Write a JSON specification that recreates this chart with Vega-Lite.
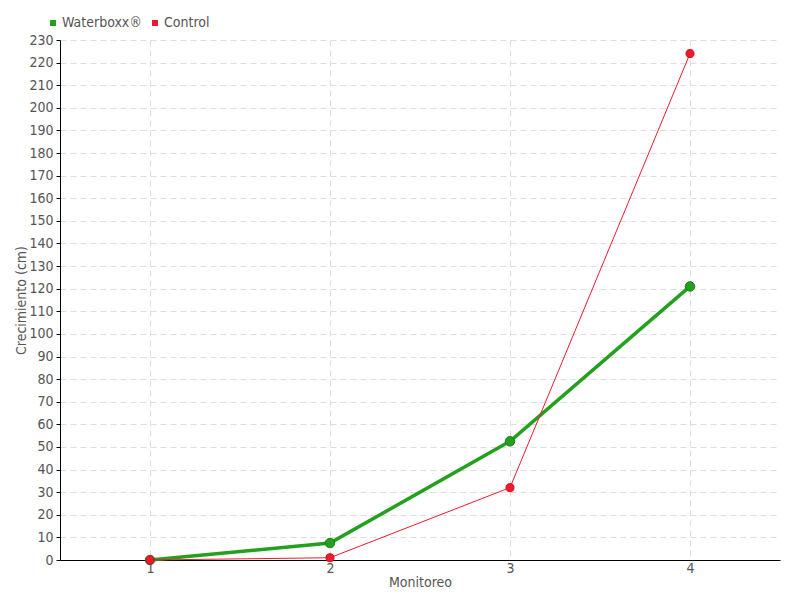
{
  "$schema": "https://vega.github.io/schema/vega-lite/v6.json",
  "width": 720,
  "height": 520,
  "autosize": {"type": "none"},
  "padding": {"left": 60, "top": 40, "right": 20, "bottom": 40},
  "background": "white",
  "config": {
    "view": {"stroke": null},
    "font": "DejaVu Sans Condensed, sans-serif",
    "axis": {
      "labelFont": "DejaVu Sans Condensed, sans-serif",
      "titleFont": "DejaVu Sans Condensed, sans-serif",
      "labelFontSize": 14,
      "titleFontSize": 14,
      "labelColor": "#555555",
      "titleColor": "#555555",
      "titleFontWeight": "normal",
      "gridColor": "#dddddd",
      "gridDash": [6, 4],
      "domainColor": "#000000",
      "tickColor": "#000000"
    },
    "legend": {
      "labelFont": "DejaVu Sans Condensed, sans-serif",
      "labelFontSize": 14,
      "labelColor": "#555555"
    }
  },
  "data": {
    "values": [
      {"monitoreo": "1", "serie": "Waterboxx®", "cm": 0},
      {"monitoreo": "2", "serie": "Waterboxx®", "cm": 7.5},
      {"monitoreo": "3", "serie": "Waterboxx®", "cm": 52.5},
      {"monitoreo": "4", "serie": "Waterboxx®", "cm": 121},
      {"monitoreo": "1", "serie": "Control", "cm": 0},
      {"monitoreo": "2", "serie": "Control", "cm": 1},
      {"monitoreo": "3", "serie": "Control", "cm": 32},
      {"monitoreo": "4", "serie": "Control", "cm": 224}
    ]
  },
  "encoding": {
    "x": {
      "field": "monitoreo",
      "type": "ordinal",
      "scale": {"type": "point", "padding": 0.5},
      "axis": {"title": "Monitoreo", "labelAngle": 0, "grid": true, "ticks": false, "titlePadding": 0, "labelPadding": 1}
    },
    "y": {
      "field": "cm",
      "type": "quantitative",
      "scale": {"domain": [0, 230], "nice": false},
      "axis": {
        "title": "Crecimiento (cm)",
        "values": [0,10,20,30,40,50,60,70,80,90,100,110,120,130,140,150,160,170,180,190,200,210,220,230],
        "tickSize": 4,
        "labelPadding": 3,
        "titlePadding": 0
      }
    },
    "color": {
      "field": "serie",
      "type": "nominal",
      "scale": {"domain": ["Waterboxx®", "Control"], "range": ["#22a01e", "#ee1a2e"]},
      "legend": {
        "title": null,
        "orient": "none",
        "direction": "horizontal",
        "legendX": -14,
        "legendY": -24,
        "symbolType": "square",
        "symbolSize": 36,
        "symbolStrokeWidth": 0,
        "symbolOffset": 0,
        "labelOffset": 2,
        "columnPadding": 6
      }
    },
    "order": {"field": "monitoreo"}
  },
  "layer": [
    {
      "transform": [{"filter": "datum.serie === 'Waterboxx®'"}],
      "mark": {"type": "line", "strokeWidth": 3.5},
      "encoding": {}
    },
    {
      "transform": [{"filter": "datum.serie === 'Control'"}],
      "mark": {"type": "line", "strokeWidth": 1},
      "encoding": {}
    },
    {
      "transform": [{"filter": "datum.serie === 'Waterboxx®'"}],
      "mark": {"type": "point", "filled": true, "opacity": 1, "size": 90, "stroke": "#1c7a18", "strokeWidth": 1},
      "encoding": {}
    },
    {
      "transform": [{"filter": "datum.serie === 'Control'"}],
      "mark": {"type": "point", "filled": true, "opacity": 1, "size": 65, "stroke": "#d01020", "strokeWidth": 1},
      "encoding": {}
    }
  ]
}
